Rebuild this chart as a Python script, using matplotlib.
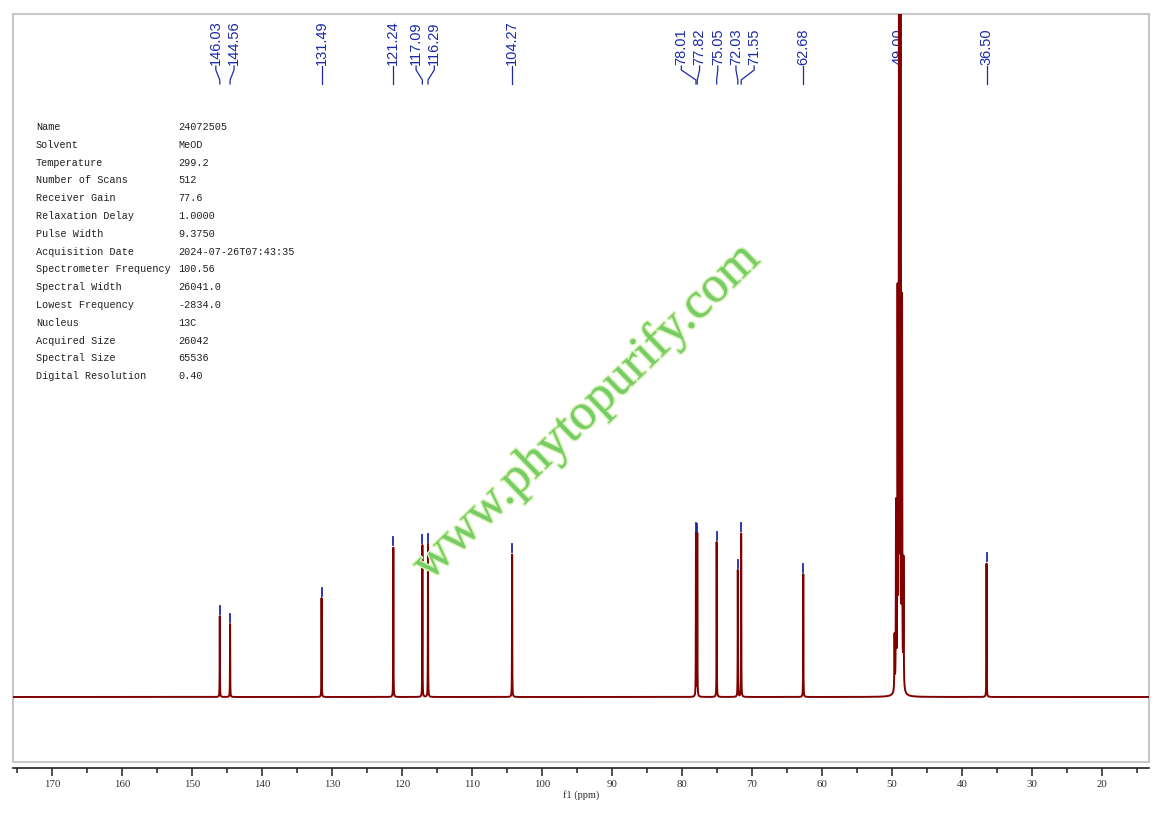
import numpy as np
import matplotlib
matplotlib.use("Agg")
import matplotlib.pyplot as plt
import matplotlib.patheffects as pe

# peak list (ppm, height above baseline)
peak_ppm = [146.03, 144.56, 131.49, 121.24, 117.09, 116.29, 104.27,
            78.01, 77.82, 75.05, 72.03, 71.55, 62.68, 36.50]
peak_height = [81, 73, 99, 150, 152, 153, 143,
               164, 163, 155, 127, 164, 123, 134]

# MeOD solvent multiplet around 49.00 (centre runs off the top)
solvent_ppm = [49.64, 49.43, 49.21, 49.00, 48.79, 48.57, 48.36]
solvent_height = [55, 184, 387, 900, 900, 380, 127]

label_ppm = [146.03, 144.56, 131.49, 121.24, 117.09, 116.29, 104.27,
             78.01, 77.82, 75.05, 72.03, 71.55, 62.68, 49.00, 36.50]

info_keys = ["Name", "Solvent", "Temperature", "Number of Scans", "Receiver Gain",
             "Relaxation Delay", "Pulse Width", "Acquisition Date",
             "Spectrometer Frequency", "Spectral Width", "Lowest Frequency",
             "Nucleus", "Acquired Size", "Spectral Size", "Digital Resolution"]
info_vals = ["24072505", "MeOD", "299.2", "512", "77.6", "1.0000", "9.3750",
             "2024-07-26T07:43:35", "100.56", "26041.0", "-2834.0", "13C",
             "26042", "65536", "0.40"]

x_ticks = [170, 160, 150, 140, 130, 120, 110, 100, 90, 80, 70, 60, 50, 40, 30, 20]

RED = "#800000"
BLUE = "#1c2aa8"


def spread_labels(pos, gap):
    # push labels apart, each cluster centred on its peaks
    groups = [[p] for p in pos]
    merged = True
    while merged:
        merged = False
        for i in range(len(groups) - 1):
            a, b = groups[i], groups[i + 1]
            lo_a = np.mean(a) - (len(a) - 1) / 2 * gap
            hi_b = np.mean(b) + (len(b) - 1) / 2 * gap
            if lo_a - hi_b < gap:
                groups[i] = a + b
                del groups[i + 1]
                merged = True
                break
    out = []
    for g in groups:
        c, n = np.mean(g), len(g)
        out += [c + ((n - 1) / 2 - k) * gap for k in range(n)]
    return out


def main():
    fig = plt.figure(figsize=(11.6, 8.16), dpi=100)
    ax = fig.add_axes([13 / 1160, 1 - 762 / 816, 1136 / 1160, 748 / 816])

    # build the trace from the peak list
    x = np.linspace(175.6, 13.2, 65536)
    y = np.zeros_like(x)
    for p, h in zip(peak_ppm, peak_height):
        y += h / (1 + ((x - p) / 0.018) ** 2)
    for p, h in zip(solvent_ppm, solvent_height):
        y += h / (1 + ((x - p) / 0.03) ** 2)
    ax.plot(x, y, color=RED, lw=1.4, zorder=3)

    ax.set_xlim(175.57, 13.29)
    ax.set_ylim(-65, 683)

    # blue peak markers
    for p, h in zip(peak_ppm, peak_height):
        ax.plot([p, p], [h + 2, h + 10], color=BLUE, lw=1.3, zorder=4)

    # peak labels at the top with leaders
    lab_pos = spread_labels(label_ppm, 2.6)
    for p, lp in zip(label_ppm, lab_pos):
        ax.plot([lp, lp, p, p], [631, 627, 617, 613], color=BLUE, lw=0.9,
                zorder=2)
        ax.text(lp, 632, f"{p:.2f}", rotation=90, ha="center", va="bottom",
                color=BLUE, fontsize=10.5, family="Liberation Sans", zorder=2)

    # frame: grey box, black axis line slightly below it
    for s in ["top", "left", "right"]:
        ax.spines[s].set_color("#c8c8c8")
        ax.spines[s].set_linewidth(1.5)
    ax.spines["bottom"].set_position(("outward", 4))
    ax.spines["bottom"].set_color("#202020")
    ax.spines["bottom"].set_linewidth(1.2)
    ax.axhline(-65, color="#c8c8c8", lw=1.5, clip_on=False)

    ax.set_yticks([])
    ax.set_xticks(x_ticks)
    ax.set_xticks(np.arange(175, 13, -5), minor=True)
    ax.tick_params(axis="x", which="major", length=6, width=1.1, color="#202020",
                   labelsize=7.8, pad=3, labelcolor="#303030")
    ax.tick_params(axis="x", which="minor", length=3.5, width=1.1, color="#202020")
    for t in ax.get_xticklabels():
        t.set_family("Liberation Serif")
    ax.set_xlabel("f1 (ppm)", fontsize=7.5, family="Liberation Serif",
                  labelpad=1, color="#303030")

    # acquisition parameters
    for i, (k, v) in enumerate(zip(info_keys, info_vals)):
        yy = 1 - (127 + i * 17.8) / 816
        fig.text(36 / 1160, yy, k, fontsize=7.3, family="Liberation Mono",
                 va="center", color="#202020")
        fig.text(178 / 1160, yy, v, fontsize=7.3, family="Liberation Mono",
                 va="center", color="#202020")

    # watermark
    fig.text(0.506, 0.495, "www.phytopurify.com", rotation=44, ha="center",
             va="center", fontsize=37, family="Liberation Serif",
             color="#78cc66", zorder=10,
             path_effects=[pe.withStroke(linewidth=2, foreground="#d9f3b8")])

    fig.savefig("out.png", dpi=100)


if __name__ == "__main__":
    main()
